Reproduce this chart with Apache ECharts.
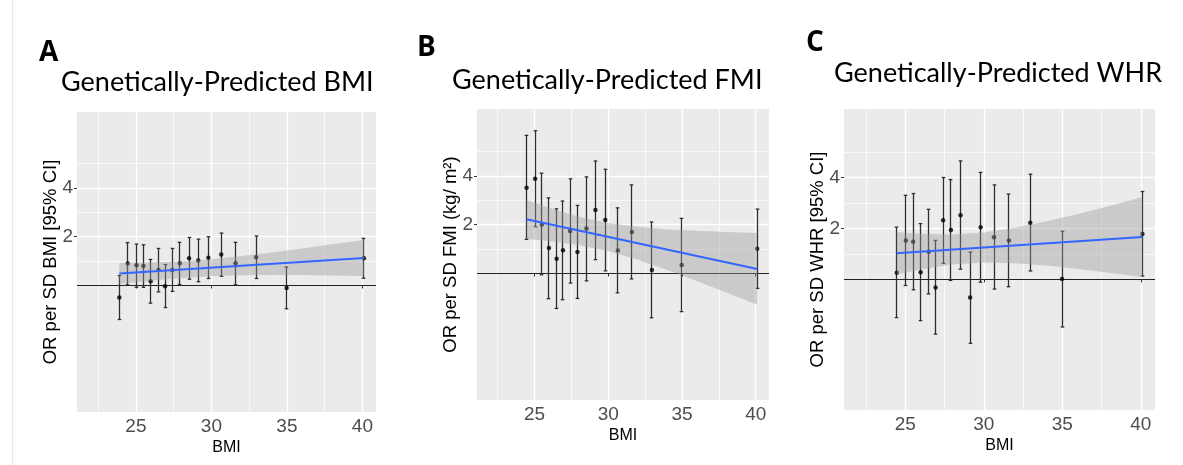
<!DOCTYPE html>
<html><head><meta charset="utf-8">
<script src="https://cdn.jsdelivr.net/npm/echarts@6/dist/echarts.min.js"></script>
<style>html,body{margin:0;padding:0;background:#fff}#c{width:1183px;height:465px}</style>
</head><body><div id="c"></div>
<script>
// ---------- shared ----------
const bmiBins = [23.9, 24.46, 25.04, 25.5, 25.98, 26.5, 26.93, 27.41, 27.91, 28.52, 29.13, 29.8, 30.65, 31.6, 32.96, 34.98, 40.1];
const xTicks = [25, 30, 35, 40];
const xMinor = [22.5, 27.5, 32.5, 37.5];
const yTicks = [2, 4];
const yMinor = [1, 3, 5];
const refLine = [0];

// ---------- Panel A: BMI ----------
const aX = bmiBins;
const aEst = [-0.49, 0.90, 0.83, 0.80, 0.18, 0.64, -0.03, 0.64, 0.91, 1.12, 1.03, 1.14, 1.27, 0.91, 1.16, -0.10, 1.12];
const aLo  = [-1.39, 0.03, -0.07, -0.07, -0.72, -0.26, -0.90, -0.24, 0.04, 0.26, 0.16, 0.29, 0.38, 0.03, 0.29, -0.95, 0.30];
const aHi  = [0.41, 1.76, 1.70, 1.67, 1.07, 1.52, 0.86, 1.52, 1.77, 1.97, 1.90, 2.00, 2.15, 1.77, 2.03, 0.76, 1.93];
const aFit = [[23.9, 0.49], [40.1, 1.13]];
const aBandX  = [23.9, 26, 28, 30, 32, 34, 36, 38, 40.1];
const aBandHi = [0.92, 0.94, 0.99, 1.08, 1.21, 1.35, 1.52, 1.69, 1.87];
const aBandLo = [0.06, 0.20, 0.31, 0.38, 0.42, 0.43, 0.43, 0.41, 0.39];

// ---------- Panel B: FMI ----------
const bX = bmiBins.slice(1);
const bEst = [3.51, 3.88, 2.01, 1.05, 0.61, 0.95, 1.74, 0.88, 1.84, 2.60, 2.19, 0.94, 1.70, 0.15, 0.35, 1.02];
const bHi  = [5.66, 5.85, 4.11, 3.10, 2.65, 2.97, 3.88, 2.79, 3.96, 4.61, 4.27, 2.69, 3.63, 2.11, 2.26, 2.64];
const bLo  = [1.40, 1.92, -0.05, -1.03, -1.43, -1.07, -0.39, -1.02, -0.30, 0.57, 0.11, -0.79, -0.22, -1.81, -1.56, -0.61];
const bFit = [[24.46, 2.22], [40.1, 0.19]];
const bBandX  = [24.46, 26, 28, 30, 32, 34, 36, 38, 40.1];
const bBandHi = [3.02, 2.69, 2.33, 2.07, 1.92, 1.80, 1.75, 1.70, 1.66];
const bBandLo = [1.42, 1.33, 1.17, 0.91, 0.56, 0.14, -0.31, -0.78, -1.28];

// ---------- Panel C: WHR ----------
const cX = bmiBins.slice(1);
const cEst = [0.26, 1.53, 1.48, 0.28, 1.08, -0.32, 2.32, 1.94, 2.52, -0.71, 2.05, 1.65, 1.53, 2.22, 0.01, 1.78];
const cHi  = [2.05, 3.30, 3.37, 2.19, 2.75, 1.53, 4.00, 3.92, 4.65, 1.07, 4.20, 3.71, 3.35, 4.13, 1.89, 3.45];
const cLo  = [-1.50, -0.24, -0.41, -1.62, -0.57, -2.15, 0.63, -0.04, 0.40, -2.51, -0.11, -0.38, -0.29, 0.33, -1.87, 0.13];
const cFit = [[24.46, 1.03], [40.1, 1.66]];
const cBandX  = [24.46, 26, 28, 30, 32, 34, 36, 38, 40.1];
const cBandHi = [1.86, 1.79, 1.76, 1.84, 2.03, 2.28, 2.57, 2.88, 3.23];
const cBandLo = [0.20, 0.39, 0.58, 0.66, 0.63, 0.54, 0.41, 0.26, 0.09];

const panels = [
  {letter: 'A', title: 'Genetically-Predicted BMI', yName: 'OR per SD BMI [95% CI]',
   x: aX, est: aEst, lo: aLo, hi: aHi, fit: aFit, bx: aBandX, bhi: aBandHi, blo: aBandLo,
   grid: {left: 77, top: 112, width: 299, height: 300}, yMin: -5.18, yMax: 7.11,
   letterPos: {left: 39, top: 39}, titlePos: {left: 61, top: 69}},
  {letter: 'B', title: 'Genetically-Predicted FMI', yName: 'OR per SD FMI (kg/ m\u00B2)',
   x: bX, est: bEst, lo: bLo, hi: bHi, fit: bFit, bx: bBandX, bhi: bBandHi, blo: bBandLo,
   grid: {left: 477, top: 109, width: 292, height: 291}, yMin: -5.18, yMax: 6.74,
   letterPos: {left: 417, top: 34}, titlePos: {left: 452, top: 67}},
  {letter: 'C', title: 'Genetically-Predicted WHR', yName: 'OR per SD WHR [95% CI]',
   x: cX, est: cEst, lo: cLo, hi: cHi, fit: cFit, bx: cBandX, bhi: cBandHi, blo: cBandLo,
   grid: {left: 844, top: 109, width: 311, height: 301}, yMin: -5.13, yMax: 6.69,
   letterPos: {left: 806, top: 29}, titlePos: {left: 834, top: 60}}
];

const FONT = "'Liberation Sans', Arial, sans-serif";
const TFONT = "Lato, 'Open Sans', sans-serif";
const option = {
  animation: false,
  backgroundColor: '#ffffff',
  title: [], grid: [], xAxis: [], yAxis: [], series: [],
  graphic: [{type: 'line', shape: {x1: 12.5, y1: 0, x2: 12.5, y2: 465}, style: {stroke: '#e8e8e8', lineWidth: 1}, silent: true}]
};

const snap = v => Math.round(v - 0.5) + 0.5;

panels.forEach((p, i) => {
  option.title.push({text: p.letter, left: p.letterPos.left, top: p.letterPos.top, padding: 0,
    textStyle: {fontFamily: "'Open Sans', sans-serif", fontWeight: 'bold', fontSize: 28, color: '#000'}});
  option.title.push({text: p.title, left: p.titlePos.left, top: p.titlePos.top, padding: 0,
    textStyle: {fontFamily: TFONT, fontWeight: 'normal', fontSize: 27, color: '#000'}});
  option.grid.push(Object.assign({show: true, backgroundColor: '#EBEBEB', borderWidth: 0}, p.grid));
  option.xAxis.push({
    type: 'value', gridIndex: i, min: 21.1, max: 40.9,
    name: 'BMI', nameLocation: 'middle', nameGap: 28, nameMoveOverlap: false,
    nameTextStyle: {fontFamily: FONT, fontSize: 16, color: '#000'},
    axisLine: {show: false}, splitLine: {show: false},
    axisTick: {show: true, length: 3, customValues: xTicks, lineStyle: {color: '#333', width: 1}},
    axisLabel: {customValues: xTicks, margin: 5, fontFamily: FONT, fontSize: 19, color: '#4D4D4D'}
  });
  option.yAxis.push({
    type: 'value', gridIndex: i, min: p.yMin, max: p.yMax,
    name: p.yName, nameLocation: 'middle', nameGap: 17, nameMoveOverlap: false,
    nameTextStyle: {fontFamily: FONT, fontSize: 18.5, color: '#000'},
    axisLine: {show: false}, splitLine: {show: false},
    axisTick: {show: true, length: 3, customValues: yTicks, lineStyle: {color: '#333', width: 1}},
    axisLabel: {customValues: yTicks, margin: 4, fontFamily: FONT, fontSize: 19, color: '#4D4D4D'}
  });
  // grid lines
  option.series.push({
    type: 'line', xAxisIndex: i, yAxisIndex: i, data: [], z: 0, silent: true,
    markLine: {silent: true, z: 0, symbol: 'none', label: {show: false}, animation: false,
      data: [
        ...xMinor.map(v => ({xAxis: v, lineStyle: {color: '#fff', width: 0.7, type: 'solid'}})),
        ...yMinor.map(v => ({yAxis: v, lineStyle: {color: '#fff', width: 0.7, type: 'solid'}})),
        ...xTicks.map(v => ({xAxis: v, lineStyle: {color: '#fff', width: 1.4, type: 'solid'}})),
        ...yTicks.map(v => ({yAxis: v, lineStyle: {color: '#fff', width: 1.4, type: 'solid'}}))
      ]}
  });
  // reference line
  option.series.push({
    type: 'line', xAxisIndex: i, yAxisIndex: i, data: [], z: 2, silent: true,
    markLine: {silent: true, z: 2, symbol: 'none', label: {show: false}, animation: false,
      data: refLine.map(v => ({yAxis: v, lineStyle: {color: '#222', width: 1.1, type: 'solid'}}))}
  });
  // error bars
  option.series.push({
    type: 'custom', xAxisIndex: i, yAxisIndex: i, z: 3, silent: true,
    data: p.x.map((x, k) => [x, p.lo[k], p.hi[k]]),
    encode: {x: 0, y: [1, 2]},
    renderItem: (params, api) => {
      const x = api.value(0);
      const a = api.coord([x, api.value(2)]);
      const b = api.coord([x, api.value(1)]);
      const cx = snap(a[0]);
      const w = 1.8;
      const st = {stroke: '#2e2e2e', lineWidth: 1.3};
      return {type: 'group', children: [
        {type: 'line', shape: {x1: cx, y1: a[1], x2: cx, y2: b[1]}, style: st},
        {type: 'line', shape: {x1: cx - w, y1: a[1], x2: cx + w, y2: a[1]}, style: st},
        {type: 'line', shape: {x1: cx - w, y1: b[1], x2: cx + w, y2: b[1]}, style: st}
      ]};
    }
  });
  // points
  option.series.push({
    type: 'scatter', xAxisIndex: i, yAxisIndex: i, z: 4, silent: true,
    symbol: 'circle', symbolSize: 4.5, itemStyle: {color: '#000'},
    data: p.x.map((x, k) => [x, p.est[k]])
  });
  // confidence band
  option.series.push({
    type: 'custom', xAxisIndex: i, yAxisIndex: i, z: 5, silent: true,
    data: p.bx.map((x, k) => [x, p.blo[k], p.bhi[k]]),
    encode: {x: 0, y: [1, 2]},
    renderItem: (params, api) => {
      if (params.dataIndex !== 0) return null;
      const pts = [];
      for (let k = 0; k < p.bx.length; k++) pts.push(api.coord([p.bx[k], p.bhi[k]]));
      for (let k = p.bx.length - 1; k >= 0; k--) pts.push(api.coord([p.bx[k], p.blo[k]]));
      return {type: 'polygon', shape: {points: pts}, style: {fill: 'rgba(153,153,153,0.4)'}};
    }
  });
  // fit line
  option.series.push({
    type: 'line', xAxisIndex: i, yAxisIndex: i, z: 6, silent: true,
    data: p.fit, symbol: 'none', lineStyle: {color: '#3366FF', width: 2}
  });
});

const chart = echarts.init(document.getElementById('c'), null, {renderer: 'canvas'});
chart.setOption(option);
</script>
</body></html>
